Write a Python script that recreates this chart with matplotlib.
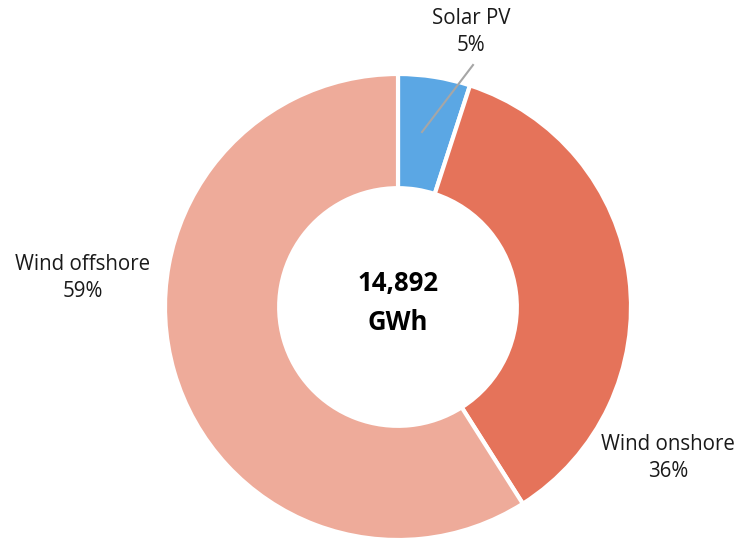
import matplotlib
matplotlib.use("Agg")
import matplotlib.pyplot as plt

labels = ["Solar PV", "Wind onshore", "Wind offshore"]
shares = [5, 36, 59]
colors = ["#5BA7E4", "#E5735A", "#EEAB9A"]
total_text = "14,892\nGWh"

plt.rcParams["font.family"] = ["Open Sans", "DejaVu Sans"]

W, H = 742, 539
fig = plt.figure(figsize=(W / 100, H / 100), dpi=100)
ax = fig.add_axes([0, 0, 1, 1])

cx, cy, r = 398, H - 307, 233
ax.pie(shares, colors=colors, startangle=90, counterclock=False,
       center=(cx, cy), radius=r, frame=True,
       wedgeprops=dict(width=r * 0.49, edgecolor="white", linewidth=3))
ax.set_xlim(0, W)
ax.set_ylim(0, H)
ax.set_aspect("equal")
ax.axis("off")

ax.text(cx, H - 303, total_text, ha="center", va="center", fontsize=18.5,
        fontweight="bold", color="black", linespacing=1.55)

# leader line for the small slice
ax.plot([473, 422], [H - 65, H - 132], color="#A6A6A6", lw=1.5)

lbl = dict(ha="center", va="center", fontsize=14.8, color="#1a1a1a", linespacing=1.35)
ax.text(471, H - 32, f"{labels[0]}\n{shares[0]}%", **lbl)
ax.text(668, H - 458, f"{labels[1]}\n{shares[1]}%", **lbl)
ax.text(83, H - 278, f"{labels[2]}\n{shares[2]}%", **lbl)

fig.savefig("out.png", dpi=100)
